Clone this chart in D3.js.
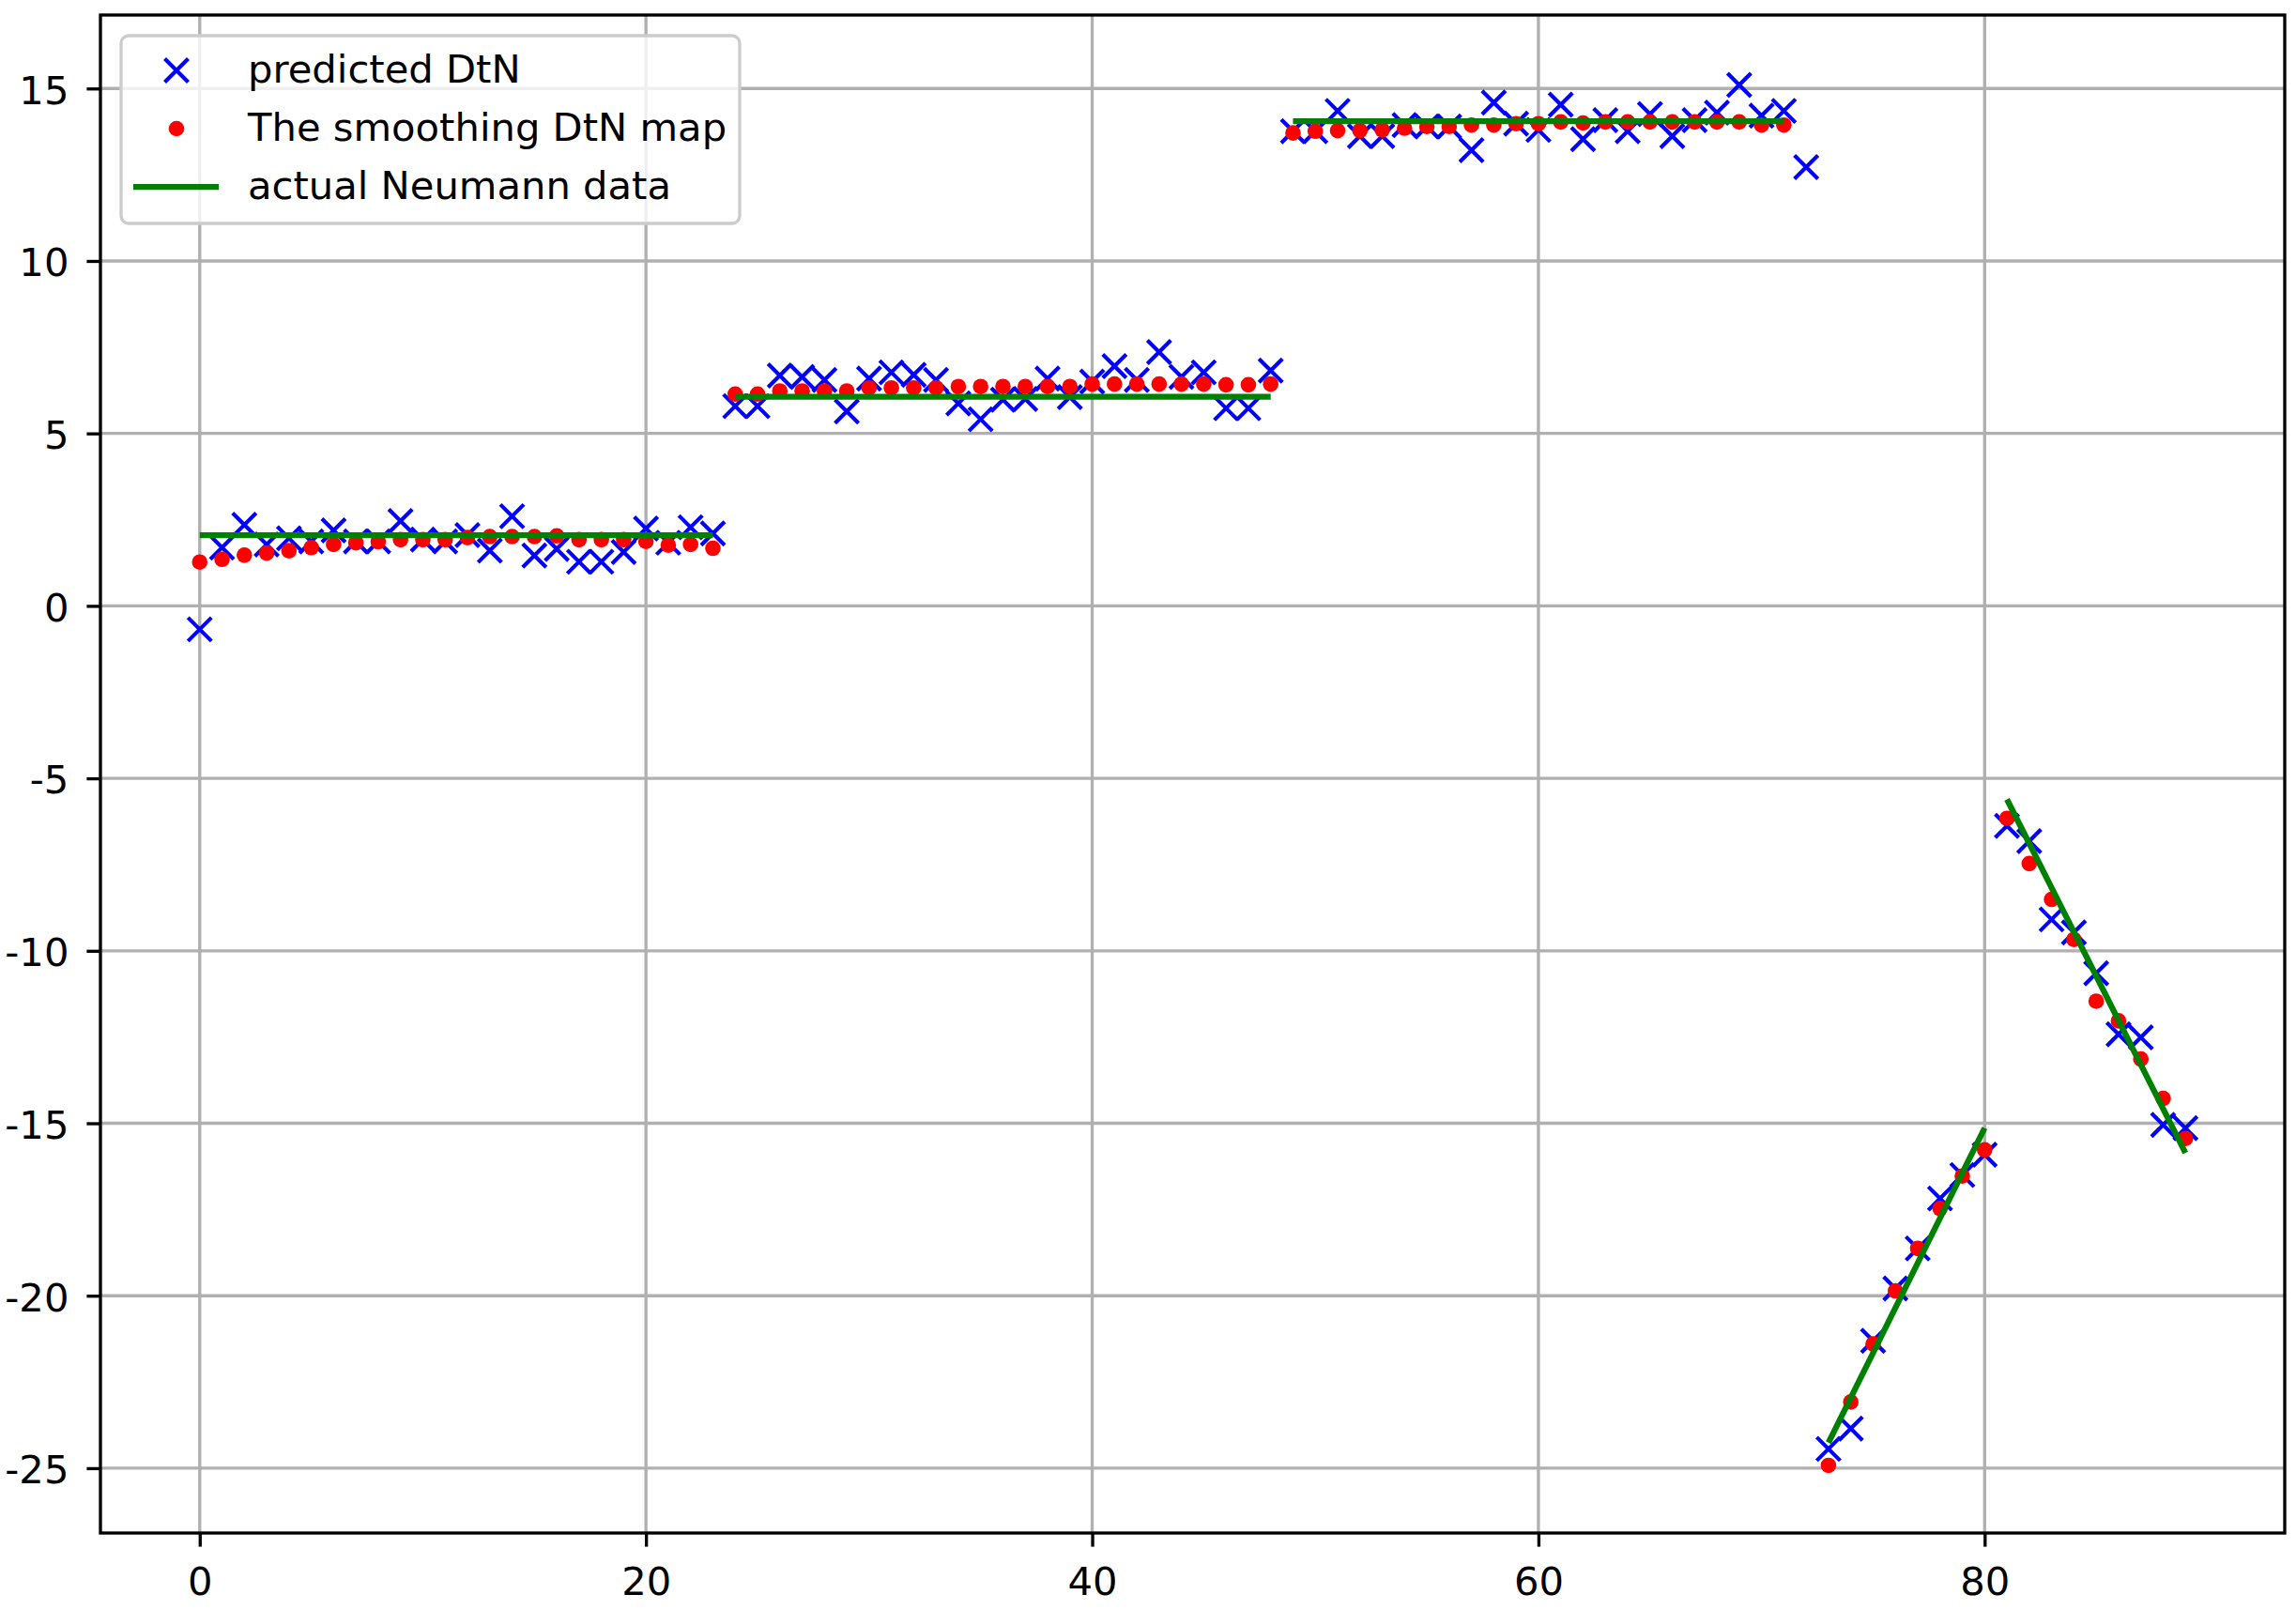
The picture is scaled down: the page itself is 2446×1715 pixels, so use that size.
<!DOCTYPE html>
<html>
<head>
<meta charset="utf-8">
<script src="https://cdn.jsdelivr.net/npm/d3@7"></script>
<style>
  html, body { margin: 0; padding: 0; background: #ffffff; }
  svg { display: block; }
  text { font-family: "DejaVu Sans", sans-serif; }
</style>
</head>
<body>
<svg id="chart" width="2446" height="1715"></svg>
<script>
// ---------------- DATA ----------------
const indices = d3.range(90);

const predictedDtN = [
  -0.68, 1.69, 2.35, 1.78, 1.96, 1.87, 2.19, 1.87, 1.87, 2.46,
  1.92, 1.87, 2.05, 1.60, 2.60, 1.46, 1.65, 1.28, 1.28, 1.56,
  2.24, 1.83, 2.28, 2.10, 5.79, 5.79, 6.68, 6.64, 6.55, 5.64,
  6.59, 6.77, 6.70, 6.55, 5.87, 5.41, 5.98, 6.00, 6.59, 6.05,
  6.50, 6.95, 6.55, 7.36, 6.64, 6.77, 5.73, 5.73, 6.82, 13.76,
  13.76, 14.35, 13.62, 13.62, 13.94, 13.90, 13.90, 13.21, 14.59, 13.98,
  13.80, 14.53, 13.53, 14.08, 13.76, 14.26, 13.62, 14.08, 14.30, 15.10,
  14.21, 14.35, 12.72, -24.44, -23.85, -21.31, -19.79, -18.63, -17.18, -16.50,
  -15.91, -6.38, -6.82, -9.09, -9.47, -10.65, -12.42, -12.51, -15.05, -15.14
];

const smoothingDtN = [
  1.27, 1.35, 1.47, 1.53, 1.60, 1.69, 1.78, 1.83, 1.86, 1.92,
  1.92, 1.92, 1.98, 2.01, 2.01, 2.01, 2.03, 1.92, 1.92, 1.92,
  1.87, 1.76, 1.78, 1.67, 6.14, 6.14, 6.23, 6.23, 6.23, 6.23,
  6.32, 6.32, 6.32, 6.32, 6.36, 6.36, 6.36, 6.36, 6.36, 6.36,
  6.43, 6.43, 6.43, 6.43, 6.43, 6.43, 6.41, 6.41, 6.43, 13.71,
  13.76, 13.78, 13.78, 13.80, 13.85, 13.90, 13.90, 13.94, 13.94, 13.98,
  13.98, 14.03, 14.00, 14.03, 14.03, 14.03, 14.03, 14.03, 14.03, 14.03,
  13.94, 13.94, null, -24.92, -23.08, -21.40, -19.86, -18.63, -17.47, -16.53,
  -15.77, -6.16, -7.47, -8.51, -9.67, -11.46, -12.03, -13.14, -14.28, -15.44
];

const neumannData = [
  2.05, 2.05, 2.05, 2.05, 2.05, 2.05, 2.05, 2.05, 2.05, 2.05,
  2.05, 2.05, 2.05, 2.05, 2.05, 2.05, 2.05, 2.05, 2.05, 2.05,
  2.05, 2.05, 2.05, 2.05, 6.06, 6.06, 6.06, 6.06, 6.06, 6.06,
  6.06, 6.06, 6.06, 6.06, 6.06, 6.06, 6.06, 6.06, 6.06, 6.06,
  6.06, 6.06, 6.06, 6.06, 6.06, 6.06, 6.06, 6.06, 6.06, 14.05,
  14.05, 14.05, 14.05, 14.05, 14.05, 14.05, 14.05, 14.05, 14.05, 14.05,
  14.05, 14.05, 14.05, 14.05, 14.05, 14.05, 14.05, 14.05, 14.05, 14.05,
  14.05, 14.05, null, -24.26, -22.96, -21.66, -20.35, -19.05, -17.75, -16.44,
  -15.14, -5.61, -6.89, -8.17, -9.45, -10.73, -12.02, -13.30, -14.58, -15.86
];

// which boundary piece each Neumann value belongs to
const neumannPiece = [
  0,0,0,0,0,0,0,0,0,0, 0,0,0,0,0,0,0,0,0,0, 0,0,0,0,
  1,1,1,1,1,1,1,1,1,1, 1,1,1,1,1,1,1,1,1,1, 1,1,1,1,1,
  2,2,2,2,2,2,2,2,2,2, 2,2,2,2,2,2,2,2,2,2, 2,2,2,
  -1,
  3,3,3,3,3,3,3,3,
  4,4,4,4,4,4,4,4,4
];

const xTicks = [0, 20, 40, 60, 80];
const yTicks = [-25, -20, -15, -10, -5, 0, 5, 10, 15];
const legendLabels = ["predicted DtN", "The smoothing DtN map", "actual Neumann data"];

// ---------------- LAYOUT ----------------
const W = 2446, H = 1715;
const plot = { left: 107, right: 2434, top: 16, bottom: 1633 };
const FS = 41.7;          // 10pt @ 300dpi
const LW = 3.33;          // 0.8pt
const svg = d3.select("#chart");
svg.append("rect").attr("width", W).attr("height", H).attr("fill", "#fff");

const x = d3.scaleLinear().domain([-4.45, 93.45]).range([plot.left, plot.right]);
const y = d3.scaleLinear().domain([-26.88, 17.13]).range([plot.bottom, plot.top]);

// grid
const grid = svg.append("g");
grid.selectAll("line.gx").data(xTicks).enter().append("line")
  .attr("x1", d => x(d)).attr("x2", d => x(d))
  .attr("y1", plot.top).attr("y2", plot.bottom)
  .attr("stroke", "#b0b0b0").attr("stroke-width", LW);
grid.selectAll("line.gy").data(yTicks).enter().append("line")
  .attr("y1", d => y(d)).attr("y2", d => y(d))
  .attr("x1", plot.left).attr("x2", plot.right)
  .attr("stroke", "#b0b0b0").attr("stroke-width", LW);

// data
const dataG = svg.append("g");
const xm = 12.5, mw = 4.17;
function xMarker(g, cx, cy) {
  g.append("path")
    .attr("d", `M${cx - xm},${cy - xm}L${cx + xm},${cy + xm}M${cx - xm},${cy + xm}L${cx + xm},${cy - xm}`)
    .attr("stroke", "blue").attr("stroke-width", mw).attr("fill", "none");
}
indices.forEach(i => {
  if (predictedDtN[i] != null) xMarker(dataG, x(i), y(predictedDtN[i]));
});
dataG.selectAll("circle.s").data(indices.filter(i => smoothingDtN[i] != null)).enter()
  .append("circle")
  .attr("cx", i => x(i)).attr("cy", i => y(smoothingDtN[i]))
  .attr("r", 8.3).attr("fill", "red");

const pieces = d3.groups(indices.filter(i => neumannPiece[i] >= 0 && neumannData[i] != null), i => neumannPiece[i]);
const line = d3.line().x(i => x(i)).y(i => y(neumannData[i]));
pieces.forEach(([k, idx]) => {
  dataG.append("path").attr("d", line(idx))
    .attr("fill", "none").attr("stroke", "green").attr("stroke-width", 6.25)
    .attr("stroke-linecap", "butt");
});

// axes
const fmt = d => String(d);
const xAxis = d3.axisBottom(x).tickValues(xTicks).tickSize(14.6).tickPadding(22).tickFormat(fmt);
const yAxis = d3.axisLeft(y).tickValues(yTicks).tickSize(14.6).tickPadding(19).tickFormat(fmt);
const gx = svg.append("g").attr("transform", `translate(0,${plot.bottom})`).call(xAxis);
const gy = svg.append("g").attr("transform", `translate(${plot.left},0)`).call(yAxis);
[gx, gy].forEach(g => {
  g.select(".domain").remove();
  g.selectAll(".tick line").attr("stroke", "#000").attr("stroke-width", LW);
  g.selectAll(".tick text").attr("fill", "#000").attr("font-size", FS)
    .attr("font-family", "'DejaVu Sans', sans-serif");
});
gy.selectAll(".tick text").attr("dy", "0.38em");

// spines
svg.append("rect")
  .attr("x", plot.left).attr("y", plot.top)
  .attr("width", plot.right - plot.left).attr("height", plot.bottom - plot.top)
  .attr("fill", "none").attr("stroke", "#000").attr("stroke-width", LW);

// legend
const leg = svg.append("g");
leg.append("rect")
  .attr("x", 129).attr("y", 38).attr("width", 659).attr("height", 200)
  .attr("rx", 8).attr("ry", 8)
  .attr("fill", "#fff").attr("fill-opacity", 0.8)
  .attr("stroke", "#cccccc").attr("stroke-width", LW);
const rowY = [75, 137, 199];
const mx = 188;
xMarker(leg, mx, rowY[0]);
leg.append("circle").attr("cx", mx).attr("cy", rowY[1]).attr("r", 8.3).attr("fill", "red");
leg.append("line").attr("x1", 142).attr("x2", 233).attr("y1", rowY[2]).attr("y2", rowY[2])
  .attr("stroke", "green").attr("stroke-width", 6.25);
legendLabels.forEach((t, k) => {
  leg.append("text").attr("x", 264).attr("y", rowY[k] + 12.5)
    .attr("font-size", FS).attr("fill", "#000").text(t);
});
</script>
</body>
</html>
